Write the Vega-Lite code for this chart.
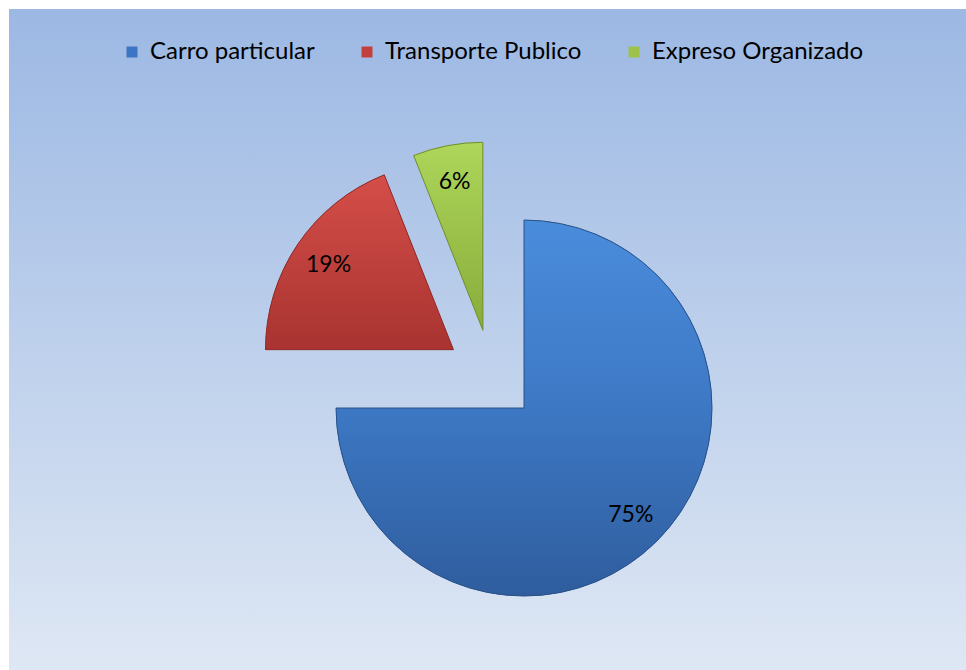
{
  "$schema": "https://vega.github.io/schema/vega-lite/v6.json",
  "width": 957,
  "height": 661,
  "autosize": "none",
  "padding": {"left": 9, "top": 9, "right": 0, "bottom": 0},
  "background": "white",
  "view": {
    "stroke": null,
    "fill": {
      "gradient": "linear", "x1": 0, "y1": 0, "x2": 0, "y2": 1,
      "stops": [{"offset": 0, "color": "#9CB8E3"}, {"offset": 1, "color": "#DEE7F4"}]
    }
  },
  "data": {
    "values": [
      {"tipo": "Carro particular", "value": 75, "orden": 1, "label": "75%"},
      {"tipo": "Transporte Publico", "value": 19, "orden": 2, "label": "19%"},
      {"tipo": "Expreso Organizado", "value": 6, "orden": 3, "label": "6%"}
    ]
  },
  "encoding": {
    "theta": {"field": "value", "type": "quantitative", "stack": true},
    "order": {"field": "orden", "type": "quantitative"},
    "color": {
      "field": "tipo",
      "type": "nominal",
      "sort": ["Carro particular", "Transporte Publico", "Expreso Organizado"],
      "scale": {
        "domain": ["Carro particular", "Transporte Publico", "Expreso Organizado"],
        "range": ["#3B75C4", "#C2413D", "#9DC24B"]
      },
      "legend": {
        "orient": "none",
        "legendX": 111,
        "legendY": 31,
        "direction": "horizontal",
        "title": null,
        "symbolType": "square",
        "symbolSize": 121,
        "symbolStrokeWidth": 0,
        "labelFontSize": 24,
        "labelFont": "Lato",
        "labelColor": "black",
        "labelOffset": 6,
        "labelLimit": 400,
        "columnPadding": 40
      }
    }
  },
  "layer": [
    {
      "mark": {
        "type": "arc",
        "outerRadius": 188,
        "x": {"expr": "482.5 + 46*sin((scale('theta', datum.value_start) + scale('theta', datum.value_end))/2)"},
        "y": {"expr": "366.5 - 46*cos((scale('theta', datum.value_start) + scale('theta', datum.value_end))/2)"}
      }
    },
    {
      "mark": {
        "type": "arc",
        "outerRadius": 188,
        "strokeWidth": 1,
        "x": {"expr": "482.5 + 46*sin((scale('theta', datum.value_start) + scale('theta', datum.value_end))/2)"},
        "y": {"expr": "366.5 - 46*cos((scale('theta', datum.value_start) + scale('theta', datum.value_end))/2)"}
      },
      "encoding": {
        "fill": {
          "condition": [
            {
              "test": "datum.tipo === 'Carro particular'",
              "value": {
                "gradient": "linear", "x1": 0, "y1": 0, "x2": 0, "y2": 1,
                "stops": [{"offset": 0, "color": "#4A8CDC"}, {"offset": 0.5, "color": "#3D78C4"}, {"offset": 1, "color": "#2F5D9E"}]
              }
            },
            {
              "test": "datum.tipo === 'Transporte Publico'",
              "value": {
                "gradient": "linear", "x1": 0, "y1": 0, "x2": 0, "y2": 1,
                "stops": [{"offset": 0, "color": "#D54E49"}, {"offset": 1, "color": "#A83330"}]
              }
            }
          ],
          "value": {
            "gradient": "linear", "x1": 0, "y1": 0, "x2": 0, "y2": 1,
            "stops": [{"offset": 0, "color": "#AED65A"}, {"offset": 1, "color": "#88AC3B"}]
          }
        },
        "stroke": {
          "condition": [
            {"test": "datum.tipo === 'Carro particular'", "value": "#2A5288"},
            {"test": "datum.tipo === 'Transporte Publico'", "value": "#8E2C2A"}
          ],
          "value": "#6F8E2E"
        }
      }
    },
    {
      "mark": {
        "type": "text",
        "radius": 151,
        "fontSize": 23,
        "font": "Lato",
        "align": "center",
        "baseline": "middle",
        "x": {"expr": "482.5 + 46*sin((scale('theta', datum.value_start) + scale('theta', datum.value_end))/2)"},
        "y": {"expr": "366.5 - 46*cos((scale('theta', datum.value_start) + scale('theta', datum.value_end))/2)"}
      },
      "encoding": {
        "text": {"field": "label"},
        "color": {"value": "black"}
      }
    }
  ]
}
